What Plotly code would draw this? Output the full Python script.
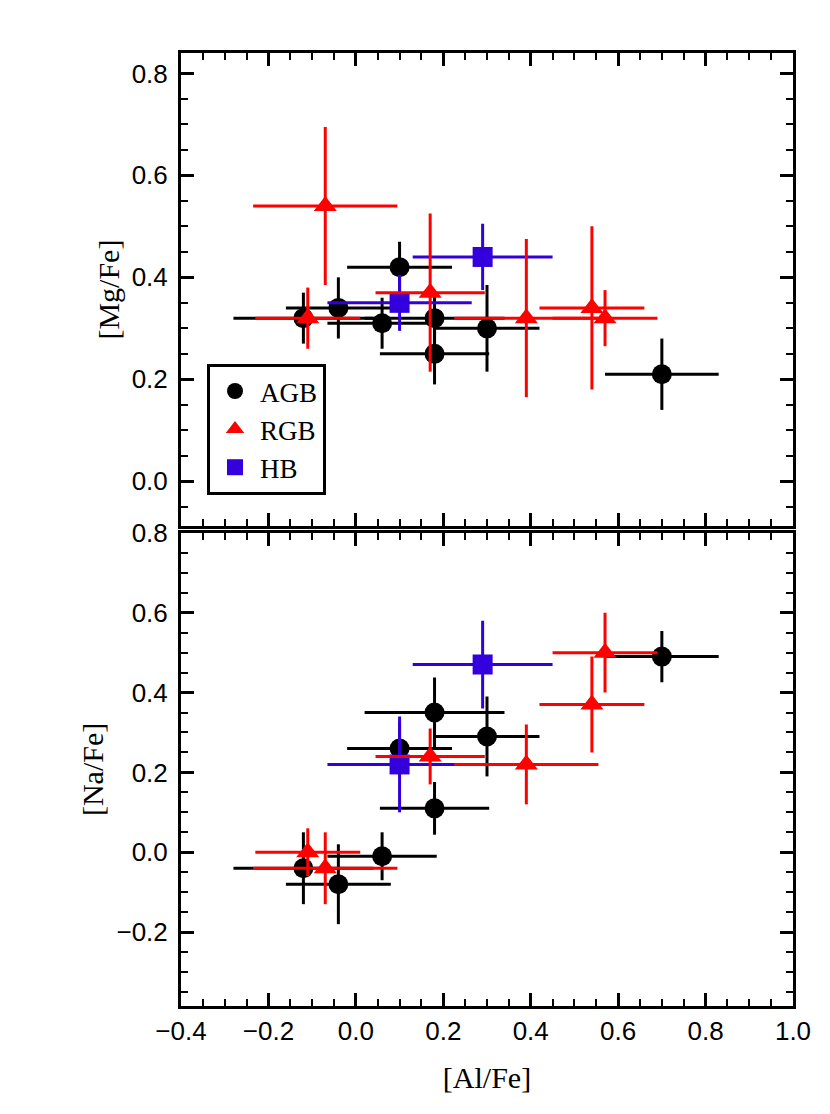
import plotly.graph_objects as go
from plotly.subplots import make_subplots

# AGB stars
agb_al = [-0.12, -0.04, 0.06, 0.10, 0.18, 0.18, 0.30, 0.70]
agb_al_err = [0.16, 0.12, 0.125, 0.12, 0.16, 0.125, 0.12, 0.13]
agb_mg = [0.32, 0.34, 0.31, 0.42, 0.32, 0.25, 0.30, 0.21]
agb_mg_err = [0.05, 0.06, 0.05, 0.05, 0.05, 0.06, 0.085, 0.07]
agb_na = [-0.04, -0.08, -0.01, 0.26, 0.35, 0.11, 0.29, 0.49]
agb_na_err = [0.09, 0.10, 0.06, 0.066, 0.088, 0.066, 0.10, 0.064]

# RGB stars
rgb_al = [-0.11, -0.07, 0.17, 0.39, 0.54, 0.57]
rgb_al_err = [0.12, 0.165, 0.125, 0.165, 0.12, 0.12]
rgb_mg = [0.32, 0.54, 0.37, 0.32, 0.34, 0.32]
rgb_mg_err = [0.06, 0.155, 0.155, 0.155, 0.16, 0.055]
rgb_na = [0.00, -0.04, 0.24, 0.22, 0.37, 0.50]
rgb_na_err = [0.06, 0.09, 0.07, 0.10, 0.12, 0.10]

# HB stars
hb_al = [0.10, 0.29]
hb_al_err = [0.165, 0.16]
hb_mg = [0.35, 0.44]
hb_mg_err = [0.055, 0.065]
hb_na = [0.22, 0.47]
hb_na_err = [0.12, 0.11]

BLUE = '#3300dd'
RED = '#ff0000'
serif = 'Liberation Serif'
sans = 'Liberation Sans'

groups = [
    ('AGB', agb_al, agb_al_err, agb_mg, agb_mg_err, agb_na, agb_na_err, 'black', 'circle', 1),
    ('HB', hb_al, hb_al_err, hb_mg, hb_mg_err, hb_na, hb_na_err, BLUE, 'square', 3),
    ('RGB', rgb_al, rgb_al_err, rgb_mg, rgb_mg_err, rgb_na, rgb_na_err, RED, 'triangle-up', 2),
]

fig = make_subplots(rows=2, cols=1, shared_xaxes=True, vertical_spacing=0.007)

for name, al, alerr, mg, mgerr, na, naerr, col, sym, rank in groups:
    for row, yv, yerr in [(1, mg, mgerr), (2, na, naerr)]:
        fig.add_trace(go.Scatter(
            x=al, y=yv, mode='markers', name=name,
            showlegend=(row == 1), legendrank=rank,
            marker=dict(color=col, symbol=sym, size=20, line=dict(width=0)),
            error_x=dict(type='data', array=alerr, color=col, thickness=3, width=0),
            error_y=dict(type='data', array=yerr, color=col, thickness=3, width=0),
        ), row=row, col=1)

ax = dict(showline=True, linecolor='black', linewidth=3, mirror='allticks',
          ticks='inside', ticklen=13, tickwidth=3, tickcolor='black',
          showgrid=False, zeroline=False,
          tickfont=dict(family=sans, size=26, color='black'),
          minor=dict(ticks='inside', ticklen=7, tickwidth=2, tickcolor='black', dtick=0.05))

title_font = dict(family=serif, size=30, color='black')

fig.update_xaxes(**ax, range=[-0.4, 1.0], dtick=0.2, tick0=0)
fig.update_xaxes(showticklabels=False, row=1, col=1)
fig.update_xaxes(title=dict(text='[Al/Fe]', font=title_font, standoff=22),
                 tickformat='.1f', row=2, col=1)
fig.update_yaxes(**ax, dtick=0.2, tick0=0, tickformat='.1f', ticklabelstandoff=5)
fig.update_yaxes(range=[-0.088, 0.84], title=dict(text='[Mg/Fe]', font=title_font, standoff=4), row=1, col=1)
fig.update_yaxes(range=[-0.385, 0.80], title=dict(text='[Na/Fe]', font=title_font, standoff=4), row=2, col=1)

fig.update_layout(
    width=830, height=1114,
    margin=dict(l=173, r=45, t=45, b=116),
    paper_bgcolor='white', plot_bgcolor='white',
    legend=dict(x=0.0425, y=0.6737, xanchor='left', yanchor='top',
                bordercolor='black', borderwidth=3, bgcolor='white',
                font=dict(family=serif, size=27, color='black'),
                itemsizing='trace', itemwidth=40),
)

fig.write_html("out.html")
